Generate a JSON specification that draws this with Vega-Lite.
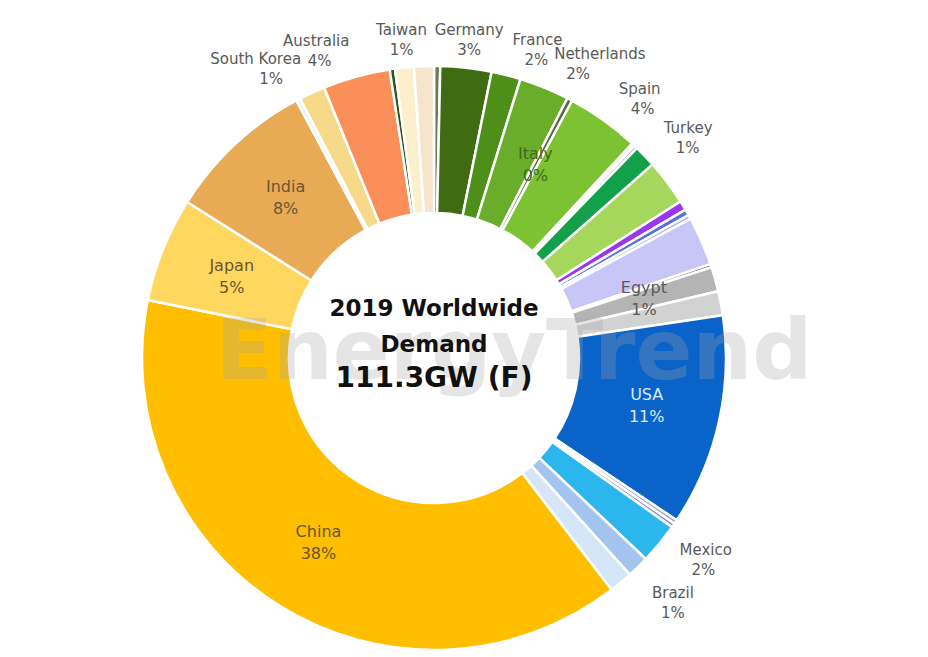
{
  "$schema": "https://vega.github.io/schema/vega-lite/v6.json",
  "autosize": {"type": "none"},
  "width": 868,
  "height": 600,
  "padding": {"left": 0, "top": 58, "right": 60, "bottom": 0},
  "background": "#ffffff",
  "config": {"view": {"stroke": null}, "font": "DejaVu Sans"},
  "datasets": {
    "slices": [
      {"i": 1, "country": "Other 1", "share": 0.33, "shown": null},
      {"i": 2, "country": "Germany", "share": 2.72, "shown": 0.03},
      {"i": 3, "country": "France", "share": 1.56, "shown": 0.02},
      {"i": 4, "country": "Netherlands", "share": 2.67, "shown": 0.02},
      {"i": 5, "country": "Italy", "share": 0.28, "shown": 0.0},
      {"i": 6, "country": "Spain", "share": 3.89, "shown": 0.04},
      {"i": 7, "country": "Other 2", "share": 0.17, "shown": null},
      {"i": 8, "country": "Other 3", "share": 0.17, "shown": null},
      {"i": 9, "country": "Turkey", "share": 1.19, "shown": 0.01},
      {"i": 10, "country": "Other 4", "share": 2.44, "shown": null},
      {"i": 11, "country": "Other 5", "share": 0.5, "shown": null},
      {"i": 12, "country": "Other 6", "share": 0.33, "shown": null},
      {"i": 13, "country": "Other 7", "share": 0.22, "shown": null},
      {"i": 14, "country": "Other 8", "share": 2.61, "shown": null},
      {"i": 15, "country": "Other 9", "share": 0.17, "shown": null},
      {"i": 16, "country": "Egypt", "share": 1.31, "shown": 0.01},
      {"i": 17, "country": "Other 10", "share": 1.28, "shown": null},
      {"i": 18, "country": "USA", "share": 11.3, "shown": 0.11},
      {"i": 19, "country": "Other 11", "share": 0.22, "shown": null},
      {"i": 20, "country": "Other 12", "share": 0.22, "shown": null},
      {"i": 21, "country": "Mexico", "share": 2.17, "shown": 0.02},
      {"i": 22, "country": "Brazil", "share": 1.17, "shown": 0.01},
      {"i": 23, "country": "Other 13", "share": 1.25, "shown": null},
      {"i": 24, "country": "China", "share": 37.2, "shown": 0.38},
      {"i": 25, "country": "Japan", "share": 5.58, "shown": 0.05},
      {"i": 26, "country": "India", "share": 7.92, "shown": 0.08},
      {"i": 27, "country": "Other 14", "share": 0.22, "shown": null},
      {"i": 28, "country": "South Korea", "share": 1.39, "shown": 0.01},
      {"i": 29, "country": "Australia", "share": 3.58, "shown": 0.04},
      {"i": 30, "country": "Other 15", "share": 0.28, "shown": null},
      {"i": 31, "country": "Taiwan", "share": 1.0, "shown": 0.01},
      {"i": 32, "country": "Other 16", "share": 1.06, "shown": null}
    ],
    "center": [
      {"n": 1, "line": "2019 Worldwide"},
      {"n": 2, "line": "Demand"},
      {"n": 3, "line": "111.3GW (F)"},
      {"n": 4, "line": "EnergyTrend"}
    ]
  },
  "layer": [
    {
      "data": {"name": "slices"},
      "encoding": {
        "theta": {"field": "share", "type": "quantitative", "stack": true},
        "order": {"field": "i", "type": "quantitative"}
      },
      "layer": [
        {
          "mark": {"type": "arc", "outerRadius": 292, "innerRadius": 145, "stroke": "#ffffff", "strokeWidth": 2.5},
          "encoding": {
            "color": {
              "field": "country", "type": "nominal", "legend": null,
              "scale": {
                "domain": ["Other 1", "Germany", "France", "Netherlands", "Italy", "Spain", "Other 2", "Other 3", "Turkey", "Other 4", "Other 5", "Other 6", "Other 7", "Other 8", "Other 9", "Egypt", "Other 10", "USA", "Other 11", "Other 12", "Mexico", "Brazil", "Other 13", "China", "Japan", "India", "Other 14", "South Korea", "Australia", "Other 15", "Taiwan", "Other 16"],
                "range": ["#667f52", "#3f6c12", "#4e8f1a", "#6aad2a", "#56683f", "#7cc233", "#e4f2c6", "#8b9b7b", "#13a04a", "#a6d65c", "#9b35f0", "#5a6fd8", "#a9b0ef", "#c7c6f6", "#6f6f6f", "#b4b4b4", "#d2d2d2", "#0a63c9", "#9da3d3", "#7f8bc6", "#2cb6ee", "#a2c4ef", "#d4e6f8", "#ffbf00", "#ffd75e", "#e9aa56", "#e8eef6", "#f7d98a", "#fa8f5a", "#2f5419", "#fcf0cc", "#f7e4cd"]
              }
            }
          }
        },
        {
          "mark": {"type": "text", "radius": 320, "dy": -10, "fontSize": 15, "fill": "#595959", "align": "center"},
          "encoding": {
            "detail": {"field": "country", "type": "nominal"},
            "text": {"condition": {"test": "indexof(['Taiwan','Germany'], datum.country) >= 0", "field": "country", "type": "nominal"}, "value": ""}
          }
        },
        {
          "mark": {"type": "text", "radius": 320, "dy": 10, "fontSize": 15, "fill": "#595959", "align": "center"},
          "encoding": {
            "detail": {"field": "country", "type": "nominal"},
            "text": {"condition": {"test": "indexof(['Taiwan','Germany'], datum.country) >= 0", "field": "shown", "type": "quantitative", "format": ".0%"}, "value": ""}
          }
        },
        {
          "mark": {"type": "text", "radius": 318, "dy": -10, "fontSize": 15, "fill": "#595959", "align": "left"},
          "encoding": {
            "detail": {"field": "country", "type": "nominal"},
            "text": {"condition": {"test": "indexof(['France','Netherlands','Spain','Turkey','Mexico'], datum.country) >= 0", "field": "country", "type": "nominal"}, "value": ""}
          }
        },
        {
          "mark": {"type": "text", "radius": 318, "dy": 10, "dx": 12, "fontSize": 15, "fill": "#595959", "align": "left"},
          "encoding": {
            "detail": {"field": "country", "type": "nominal"},
            "text": {"condition": {"test": "indexof(['France','Netherlands','Spain','Turkey','Mexico'], datum.country) >= 0", "field": "shown", "type": "quantitative", "format": ".0%"}, "value": ""}
          }
        },
        {
          "mark": {"type": "text", "radius": 318, "dy": -10, "fontSize": 15, "fill": "#595959", "align": "right"},
          "encoding": {
            "detail": {"field": "country", "type": "nominal"},
            "text": {"condition": {"test": "indexof(['Australia','South Korea'], datum.country) >= 0", "field": "country", "type": "nominal"}, "value": ""}
          }
        },
        {
          "mark": {"type": "text", "radius": 318, "dy": 10, "dx": -18, "fontSize": 15, "fill": "#595959", "align": "right"},
          "encoding": {
            "detail": {"field": "country", "type": "nominal"},
            "text": {"condition": {"test": "indexof(['Australia','South Korea'], datum.country) >= 0", "field": "shown", "type": "quantitative", "format": ".0%"}, "value": ""}
          }
        },
        {
          "mark": {"type": "text", "radius": 342, "dy": -10, "fontSize": 15, "fill": "#595959", "align": "center"},
          "encoding": {
            "detail": {"field": "country", "type": "nominal"},
            "text": {"condition": {"test": "indexof(['Brazil'], datum.country) >= 0", "field": "country", "type": "nominal"}, "value": ""}
          }
        },
        {
          "mark": {"type": "text", "radius": 342, "dy": 10, "fontSize": 15, "fill": "#595959", "align": "center"},
          "encoding": {
            "detail": {"field": "country", "type": "nominal"},
            "text": {"condition": {"test": "indexof(['Brazil'], datum.country) >= 0", "field": "shown", "type": "quantitative", "format": ".0%"}, "value": ""}
          }
        },
        {
          "mark": {"type": "text", "radius": 218, "dy": -11, "fontSize": 16},
          "encoding": {
            "detail": {"field": "country", "type": "nominal"},
            "color": {"condition": [{"test": "datum.country === 'USA'", "value": "#dce9ff"}, {"test": "datum.country === 'Italy'", "value": "#3d6b1b"}, {"test": "datum.country === 'Egypt'", "value": "#595959"}], "value": "#6a5632"},
            "text": {"condition": {"test": "indexof(['China','USA','India','Japan','Italy','Egypt'], datum.country) >= 0", "field": "country", "type": "nominal"}, "value": ""}
          }
        },
        {
          "mark": {"type": "text", "radius": 218, "dy": 11, "fontSize": 16},
          "encoding": {
            "detail": {"field": "country", "type": "nominal"},
            "color": {"condition": [{"test": "datum.country === 'USA'", "value": "#dce9ff"}, {"test": "datum.country === 'Italy'", "value": "#3d6b1b"}, {"test": "datum.country === 'Egypt'", "value": "#595959"}], "value": "#6a5632"},
            "text": {"condition": {"test": "indexof(['China','USA','India','Japan','Italy','Egypt'], datum.country) >= 0", "field": "shown", "type": "quantitative", "format": ".0%"}, "value": ""}
          }
        }
      ]
    },
    {
      "data": {"name": "center"},
      "transform": [{"filter": "datum.n == 4"}],
      "mark": {"type": "text", "fontSize": 84, "fontWeight": "bold", "fill": "#a6a6a6", "opacity": 0.28, "dx": 80, "dy": -4},
      "encoding": {"text": {"field": "line", "type": "nominal"}}
    },
    {
      "data": {"name": "center"},
      "transform": [{"filter": "datum.n == 1"}],
      "mark": {"type": "text", "fontSize": 23, "fontWeight": "bold", "fill": "#111111", "dy": -49},
      "encoding": {"text": {"field": "line", "type": "nominal"}}
    },
    {
      "data": {"name": "center"},
      "transform": [{"filter": "datum.n == 2"}],
      "mark": {"type": "text", "fontSize": 23, "fontWeight": "bold", "fill": "#111111", "dy": -13},
      "encoding": {"text": {"field": "line", "type": "nominal"}}
    },
    {
      "data": {"name": "center"},
      "transform": [{"filter": "datum.n == 3"}],
      "mark": {"type": "text", "fontSize": 28, "fontWeight": "bold", "fill": "#111111", "dy": 21},
      "encoding": {"text": {"field": "line", "type": "nominal"}}
    }
  ]
}
